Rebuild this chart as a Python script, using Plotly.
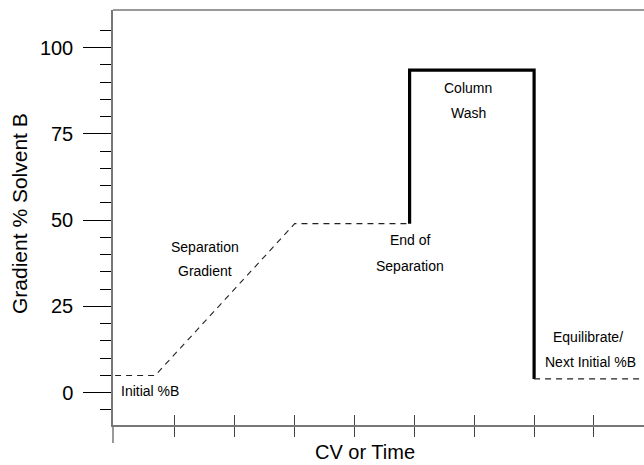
import plotly.graph_objects as go

# ---- data ----
dash1_x = [0.0, 0.67, 3.0, 4.92]
dash1_y = [5, 5, 49, 49]
wash_x = [4.92, 4.92, 7.0, 7.0]
wash_y = [49, 93.5, 93.5, 4]
dash2_x = [7.0, 8.84]
dash2_y = [4, 4]

y_major = [0, 25, 50, 75, 100]
y_minor = [-5, 5, 10, 15, 20, 30, 35, 40, 45, 55, 60, 65, 70, 80, 85, 90, 95, 105]
x_ticks = [1, 2, 3, 4, 5, 6, 7, 8]

label_text = ["Initial %B", "Separation", "Gradient", "End of", "Separation",
              "Column", "Wash", "Equilibrate/", "Next Initial %B"]
label_x = [0.58, 1.50, 1.50, 4.93, 4.93, 5.90, 5.90, 7.90, 7.95]
label_y = [0.5, 42.2, 35.3, 44.3, 36.7, 88.3, 81.1, 16.1, 8.9]

XR = [-0.035, 8.836]
YR = [-9.36, 110.93]
AX = "#777777"
FONT = "Liberation Sans, Arial, sans-serif"

fig = go.Figure()
fig.add_trace(go.Scatter(x=dash1_x, y=dash1_y, mode="lines",
                         line=dict(color="#222222", width=1.1, dash="6px,5px"),
                         hoverinfo="skip", showlegend=False))
fig.add_trace(go.Scatter(x=wash_x, y=wash_y, mode="lines",
                         line=dict(color="black", width=3.2),
                         hoverinfo="skip", showlegend=False))
fig.add_trace(go.Scatter(x=dash2_x, y=dash2_y, mode="lines",
                         line=dict(color="#222222", width=1.1, dash="6px,5px"),
                         hoverinfo="skip", showlegend=False))
fig.add_trace(go.Scatter(x=[None], y=[None], xaxis="x2", showlegend=False,
                         hoverinfo="skip"))

for t, x, y in zip(label_text, label_x, label_y):
    fig.add_annotation(x=x, y=y, text=t, showarrow=False,
                       font=dict(family=FONT, size=14, color="black"),
                       xanchor="center", yanchor="middle")

W, H = 644, 465
ml, mr, mt, mb = 113, 0, 10, 40
pw, ph = W - ml - mr, H - mt - mb

fig.add_annotation(xref="paper", yref="paper", x=-(113 - 20) / pw, y=(H - mb - 214) / ph,
                   text="Gradient % Solvent B", textangle=-90, showarrow=False,
                   font=dict(family=FONT, size=21, color="black"),
                   xanchor="center", yanchor="middle")
fig.add_annotation(xref="paper", yref="paper", x=(365 - ml) / pw, y=-(452 - (H - mb)) / ph,
                   text="CV or Time", showarrow=False,
                   font=dict(family=FONT, size=20, color="black"),
                   xanchor="center", yanchor="middle")

# top border and y-axis extension below x-axis
fig.add_shape(type="line", xref="paper", yref="paper", x0=0, x1=1, y0=1, y1=1,
              line=dict(color=AX, width=1.5))
fig.add_shape(type="line", xref="paper", yref="paper", x0=0, x1=0, y0=0, y1=-18 / ph,
              line=dict(color=AX, width=1.5))

fig.update_layout(
    width=W, height=H,
    margin=dict(l=ml, r=mr, t=mt, b=mb),
    plot_bgcolor="white", paper_bgcolor="white",
    showlegend=False,
    xaxis=dict(range=XR, showgrid=False, zeroline=False, showline=True,
               linecolor=AX, linewidth=1.5, tickmode="array", tickvals=x_ticks,
               ticks="outside", ticklen=10, tickcolor="#444444", tickwidth=1.2,
               showticklabels=False),
    xaxis2=dict(range=XR, overlaying="x", anchor="y", side="bottom",
                showgrid=False, zeroline=False, showline=False,
                tickmode="array", tickvals=x_ticks, ticks="inside", ticklen=10,
                tickcolor="#444444", tickwidth=1.2, showticklabels=False),
    yaxis=dict(range=YR, showgrid=False, zeroline=False, showline=True,
               linecolor=AX, linewidth=1.5, tickmode="array", tickvals=y_major,
               ticktext=[str(v) for v in y_major],
               ticks="outside", ticklen=28, tickcolor="black", tickwidth=1.2,
               ticklabelstandoff=6,
               tickfont=dict(family=FONT, size=20, color="black"),
               minor=dict(tickmode="array", tickvals=y_minor, ticks="outside",
                          ticklen=11, tickcolor="black", tickwidth=1.2,
                          showgrid=False)),
)

fig.write_html("out.html",
               config={"displayModeBar": False},
               post_script="document.body.style.margin='0';"
                           "document.body.style.overflow='hidden';")
